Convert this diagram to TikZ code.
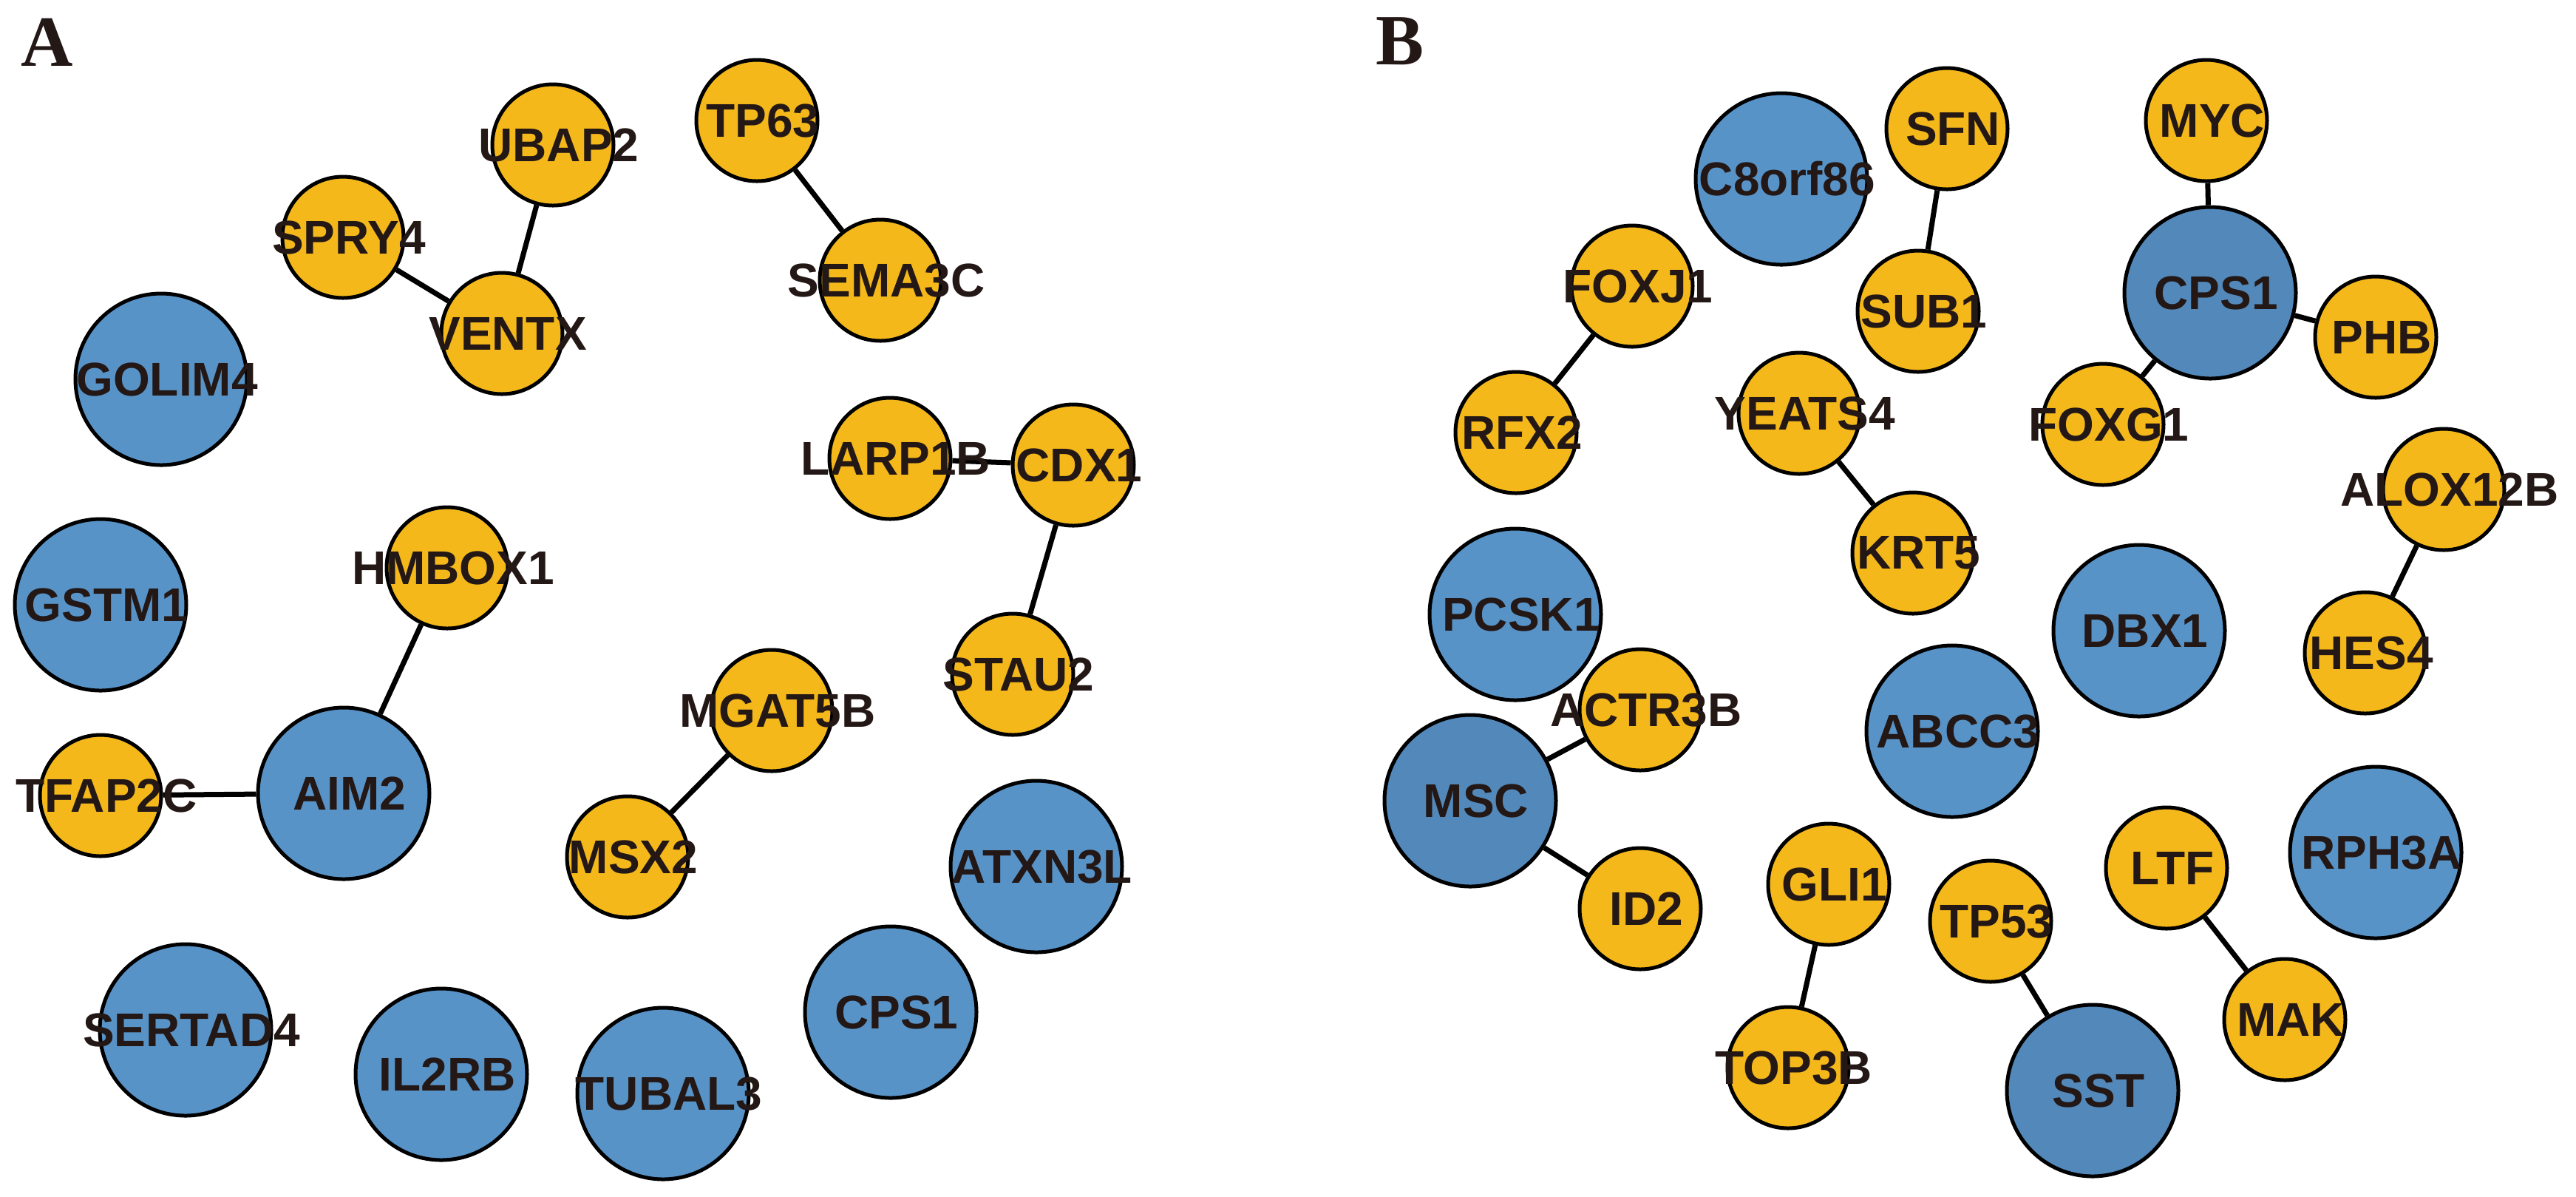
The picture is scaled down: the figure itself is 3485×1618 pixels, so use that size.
\documentclass[tikz,border=0pt]{standalone}
\usepackage{fontspec}
\setmainfont{Liberation Sans}
\newfontfamily\panelfont{Liberation Serif}
\usetikzlibrary{backgrounds}

\definecolor{genegold}{HTML}{F4B81B}
\definecolor{geneblue}{HTML}{5893C8}
\definecolor{hubblue}{HTML}{5288BA}
\definecolor{inkdark}{HTML}{231815}

% gene names overflow their circles, so they take no width
\newcommand{\gname}[1]{\makebox[0pt]{\hspace{3.2pt}#1}}

\begin{document}
\begin{tikzpicture}[x=0.2pt, y=-0.2pt,
  every node/.style={circle, draw=black, line width=1pt, inner sep=0pt,
    text=inkdark, font=\bfseries\fontsize{12.8}{12.8}\selectfont},
  gold/.style={fill=genegold, minimum size=32.8pt},
  blue/.style={fill=geneblue, minimum size=46.4pt},
  hub/.style={fill=hubblue, minimum size=46.4pt},
  link/.style={line width=1.4pt, black},
  panel/.style={draw=none, rectangle, font=\panelfont\bfseries\fontsize{19.5}{19.5}\selectfont, text=inkdark}
  ]
  \useasboundingbox (0,0) rectangle (3485,1618);

  % panel A
  \node[panel] (labA) at (64,57) {A};
  \node[gold] (ubap2) at (748,196) {\gname{UBAP2}};
  \node[gold] (tp63) at (1024,163) {\gname{TP63}};
  \node[gold] (spry4) at (464,321) {\gname{SPRY4}};
  \node[gold] (sema3c) at (1191,379) {\gname{SEMA3C}};
  \node[gold] (ventx) at (679,451) {\gname{VENTX}};
  \node[blue] (golim4) at (218,513) {\gname{GOLIM4}};
  \node[gold] (larp1b) at (1204,620) {\gname{LARP1B}};
  \node[gold] (cdx1) at (1452,629) {\gname{CDX1}};
  \node[blue] (gstm1) at (136,818) {\gname{GSTM1}};
  \node[gold] (hmbox1) at (605,768) {\gname{HMBOX1}};
  \node[gold] (stau2) at (1370,912) {\gname{STAU2}};
  \node[gold] (mgat5b) at (1044,961) {\gname{MGAT5B}};
  \node[gold] (tfap2c) at (136,1076) {\gname{TFAP2C}};
  \node[blue] (aim2) at (465,1073) {\gname{AIM2}};
  \node[gold] (msx2) at (849,1159) {\gname{MSX2}};
  \node[blue] (atxn3l) at (1402,1172) {\gname{ATXN3L}};
  \node[blue] (cpsA) at (1205,1369) {\gname{CPS1}};
  \node[blue] (sertad4) at (251,1393) {\gname{SERTAD4}};
  \node[blue] (il2rb) at (597,1453) {\gname{IL2RB}};
  \node[blue] (tubal3) at (897,1479) {\gname{TUBAL3}};

  % panel B
  \node[panel] (labB) at (1894,56) {B};
  \node[blue] (c8orf86) at (2410,242) {\gname{C8orf86}};
  \node[gold] (sfn) at (2634,174) {\gname{SFN}};
  \node[gold] (myc) at (2985,163) {\gname{MYC}};
  \node[gold] (foxj1) at (2208,387) {\gname{FOXJ1}};
  \node[gold] (sub1) at (2595,421) {\gname{SUB1}};
  \node[hub] (cpsB) at (2990,396) {\gname{CPS1}};
  \node[gold] (phb) at (3214,456) {\gname{PHB}};
  \node[gold] (rfx2) at (2051,585) {\gname{RFX2}};
  \node[gold] (yeats4) at (2434,559) {\gname{YEATS4}};
  \node[gold] (foxg1) at (2845,574) {\gname{FOXG1}};
  \node[gold] (alox12b) at (3306,662) {\gname{ALOX12B}};
  \node[gold] (krt5) at (2588,748) {\gname{KRT5}};
  \node[blue] (pcsk1) at (2050,831) {\gname{PCSK1}};
  \node[blue] (dbx1) at (2894,853) {\gname{DBX1}};
  \node[gold] (hes4) at (3200,883) {\gname{HES4}};
  \node[gold] (actr3b) at (2219,960) {\gname{ACTR3B}};
  \node[blue] (abcc3) at (2641,989) {\gname{ABCC3}};
  \node[hub] (msc) at (1989,1083) {\gname{MSC}};
  \node[gold] (id2) at (2219,1229) {\gname{ID2}};
  \node[gold] (gli1) at (2474,1196) {\gname{GLI1}};
  \node[gold] (tp53) at (2693,1246) {\gname{TP53}};
  \node[gold] (ltf) at (2931,1174) {\gname{LTF}};
  \node[blue] (rph3a) at (3214,1153) {\gname{RPH3A}};
  \node[gold] (mak) at (3091,1379) {\gname{MAK}};
  \node[gold] (top3b) at (2419,1444) {\gname{TOP3B}};
  \node[hub] (sst) at (2831,1475) {\gname{SST}};

  % interactions
  \begin{pgfonlayer}{background}
    \draw[link] (ubap2) -- (ventx);
    \draw[link] (spry4) -- (ventx);
    \draw[link] (tp63) -- (sema3c);
    \draw[link] (larp1b) -- (cdx1);
    \draw[link] (cdx1) -- (stau2);
    \draw[link] (hmbox1) -- (aim2);
    \draw[link] (tfap2c) -- (aim2);
    \draw[link] (mgat5b) -- (msx2);
    \draw[link] (sfn) -- (sub1);
    \draw[link] (myc) -- (cpsB);
    \draw[link] (cpsB) -- (phb);
    \draw[link] (cpsB) -- (foxg1);
    \draw[link] (foxj1) -- (rfx2);
    \draw[link] (yeats4) -- (krt5);
    \draw[link] (alox12b) -- (hes4);
    \draw[link] (actr3b) -- (msc);
    \draw[link] (msc) -- (id2);
    \draw[link] (gli1) -- (top3b);
    \draw[link] (tp53) -- (sst);
    \draw[link] (ltf) -- (mak);
  \end{pgfonlayer}
\end{tikzpicture}
\end{document}
